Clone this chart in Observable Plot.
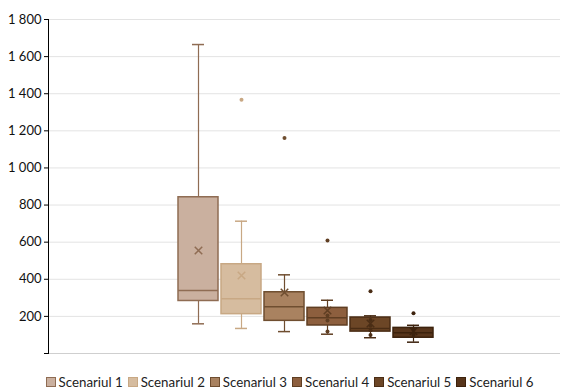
<!DOCTYPE html>
<html>
<head>
<meta charset="utf-8">
<script src="https://cdn.jsdelivr.net/npm/d3@7"></script>
<script src="https://cdn.jsdelivr.net/npm/@observablehq/plot@0.6"></script>
<style>
  html, body { margin: 0; padding: 0; background: #fff; }
  body { width: 561px; height: 392px; overflow: hidden; font-family: Lato, "Open Sans", sans-serif; }
  #chart svg { display: block; }
  .legend { display: flex; justify-content: center; gap: 5px; margin-top: 12px; padding-left: 18px; font-size: 13.3px; line-height: 16px; color: #222; }
  .legend .item { display: flex; align-items: center; gap: 3px; }
  .legend .sw { width: 8px; height: 8px; border: 1px solid; }
</style>
</head>
<body>
<div id="chart"></div>
<script>
const names = ["Scenariul 1", "Scenariul 2", "Scenariul 3", "Scenariul 4", "Scenariul 5", "Scenariul 6"];
const mins    = [160, 135, 118, 104, 85, 61];
const q1s     = [283, 212, 176, 151, 118, 85];
const medians = [339, 295, 252, 192, 135, 112];
const q3s     = [842, 481, 330, 246, 194, 138];
const maxs    = [1665, 713, 424, 287, 203, 152];
const means   = [555, 420, 329, 232, 162, 120];
const outliers = [[], [1368], [1162], [609], [336], [217]];
const innerPoints = [[], [], [], [205, 178, 118], [180, 150, 125, 100], [128, 100]];
const yTicks = [0, 200, 400, 600, 800, 1000, 1200, 1400, 1600, 1800];

const fills   = ["#cab09f", "#d6bc9f", "#a98260", "#8d5f3e", "#6c4626", "#57351b"];
const strokes = ["#8f6c53", "#c8a884", "#6f4e30", "#5f3e22", "#4a2d15", "#3c220d"];

const stats = names.map((name, i) => ({
  name, min: mins[i], q1: q1s[i], median: medians[i], q3: q3s[i], max: maxs[i], mean: means[i]
}));

const marks = [
  Plot.gridY(yTicks.filter(d => d > 0), {stroke: "#e3e3e3", strokeOpacity: 1}),
  Plot.ruleY([0], {stroke: "#cfcfcf"}),
  Plot.axisY(yTicks, {
    tickSize: 4, tickPadding: 3, fontSize: 13, fill: "#111", stroke: "#000",
    tickFormat: d => d === 0 ? "" : d3.format(",")(d).replace(",", " ")
  }),
  Plot.frame({anchor: "left", stroke: "#000"})
];

stats.forEach((s, i) => {
  const st = strokes[i], fl = fills[i];
  marks.push(
    Plot.ruleX([s], {x: "name", y1: "min", y2: "q1", stroke: st, strokeWidth: 1.2}),
    Plot.ruleX([s], {x: "name", y1: "q3", y2: "max", stroke: st, strokeWidth: 1.2}),
    Plot.tickY([s], {x: "name", y: "min", stroke: st, strokeWidth: 1.5, insetLeft: 14, insetRight: 14}),
    Plot.tickY([s], {x: "name", y: "max", stroke: st, strokeWidth: 1.5, insetLeft: 14, insetRight: 14}),
    Plot.barY([s], {x: "name", y1: "q1", y2: "q3", fill: fl, stroke: st, strokeWidth: 1.5}),
    Plot.tickY([s], {x: "name", y: "median", stroke: st, strokeWidth: 1.5}),
    Plot.dot(innerPoints[i].map(v => ({name: s.name, v})), {x: "name", y: "v", r: 2, fill: st, stroke: "none"}),
    Plot.dot([s], {x: "name", y: "mean", symbol: "times", r: 3.5, stroke: st, strokeWidth: 1.5}),
    Plot.dot(outliers[i].map(v => ({name: s.name, v})), {x: "name", y: "v", r: 2, fill: st, stroke: "none"})
  );
});

const chart = Plot.plot({
  width: 561,
  height: 362,
  marginLeft: 48,
  marginRight: 1,
  marginTop: 19,
  marginBottom: 9,
  style: {fontFamily: "Lato, 'Open Sans', sans-serif", fontSize: "13px", background: "#fff"},
  x: {type: "band", domain: names, range: [175, 436], paddingInner: 0.08, paddingOuter: 0.04, axis: null},
  y: {domain: [0, 1800], axis: null},
  marks
});
document.getElementById("chart").appendChild(chart);

const legend = document.createElement("div");
legend.className = "legend";
names.forEach((n, i) => {
  const item = document.createElement("div");
  item.className = "item";
  const sw = document.createElement("span");
  sw.className = "sw";
  sw.style.background = fills[i];
  sw.style.borderColor = strokes[i];
  const t = document.createElement("span");
  t.textContent = n;
  item.appendChild(sw);
  item.appendChild(t);
  legend.appendChild(item);
});
document.body.appendChild(legend);
</script>
</body>
</html>
